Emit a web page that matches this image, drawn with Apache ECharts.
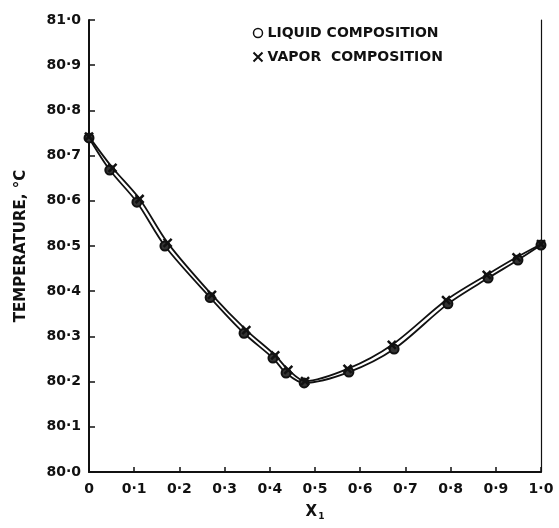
<!DOCTYPE html>
<html>
<head>
  <meta charset="utf-8">
  <title>T-x diagram</title>
  <script src="https://cdn.jsdelivr.net/npm/echarts@6.0.0/dist/echarts.min.js"></script>
  <style>
    html, body { margin: 0; padding: 0; background: #fff; }
    #main { width: 559px; height: 528px; }
  </style>
</head>
<body>
  <div id="main"></div>
  <script type="text/javascript">
    // liquid composition (x1, T)
    var liquidX = [0, 0.046, 0.106, 0.168, 0.268, 0.343, 0.407, 0.436, 0.476, 0.575, 0.675, 0.794, 0.883, 0.949, 1.0];
    var liquidT = [80.739, 80.668, 80.597, 80.500, 80.386, 80.307, 80.252, 80.219, 80.197, 80.221, 80.272, 80.372, 80.429, 80.469, 80.502];
    // vapor composition (y1, T)
    var vaporX = [0, 0.052, 0.112, 0.174, 0.272, 0.348, 0.412, 0.441, 0.478, 0.572, 0.670, 0.790, 0.880, 0.946, 1.0];
    var vaporT = [80.742, 80.673, 80.604, 80.507, 80.392, 80.314, 80.258, 80.226, 80.201, 80.228, 80.281, 80.380, 80.436, 80.475, 80.504];

    function pairs(xs, ys) {
      var out = [];
      for (var i = 0; i < xs.length; i++) {
        out.push([xs[i], ys[i]]);
      }
      return out;
    }

    function dotLabel(v) {
      var s = v.toFixed(1).replace('.', '·');
      return s === '0·0' ? '0' : s;
    }

    var crossPath = 'path://M0,0L10,10M10,0L0,10';
    var font = 'DejaVu Sans';

    var myChart = echarts.init(document.getElementById('main'));

    var option = {
      backgroundColor: '#fff',
      animation: false,
      textStyle: { fontFamily: font },
      grid: { left: 89, right: 18, top: 20, bottom: 56, containLabel: false, outerBoundsMode: 'none' },
      legend: {
        orient: 'vertical',
        left: 246,
        top: 21,
        itemGap: 10,
        itemWidth: 9,
        itemHeight: 9,
        selectedMode: false,
        textStyle: { fontFamily: font, fontSize: 14, fontWeight: 'bold', color: '#111' },
        data: [
          { name: 'LIQUID COMPOSITION', icon: 'circle',
            itemStyle: { color: '#fff', borderColor: '#111', borderWidth: 1.5 } },
          { name: 'VAPOR  COMPOSITION', icon: crossPath,
            itemStyle: { color: 'none', borderColor: '#111', borderWidth: 2 } }
        ]
      },
      xAxis: {
        type: 'value',
        min: 0,
        max: 1,
        interval: 0.1,
        name: '{a|X}{b|1}',
        nameLocation: 'middle',
        nameGap: 32,
        nameTextStyle: {
          rich: {
            a: { fontFamily: font, fontSize: 15, fontWeight: 'bold', color: '#111' },
            b: { fontFamily: font, fontSize: 9, fontWeight: 'bold', color: '#111', padding: [8, 0, 0, 1] }
          }
        },
        axisLine: { lineStyle: { color: '#111', width: 2 } },
        axisTick: { inside: true, length: 5, lineStyle: { color: '#111', width: 1.5 } },
        axisLabel: { formatter: dotLabel, fontSize: 14, fontWeight: 'bold', color: '#111', margin: 10 },
        splitLine: { show: false }
      },
      yAxis: [{
        type: 'value',
        min: 80,
        max: 81,
        interval: 0.1,
        name: 'TEMPERATURE, °C',
        nameLocation: 'middle',
        nameGap: 60,
        nameTextStyle: { fontFamily: font, fontSize: 15, fontWeight: 'bold', color: '#111' },
        axisLine: { show: true, lineStyle: { color: '#111', width: 2 } },
        axisTick: { inside: true, length: 6, lineStyle: { color: '#111', width: 1.5 } },
        axisLabel: { formatter: function (v) { return v.toFixed(1).replace('.', '·'); },
          fontSize: 14, fontWeight: 'bold', color: '#111', margin: 8 },
        splitLine: { show: false }
      }, {
        type: 'value',
        min: 80,
        max: 81,
        position: 'right',
        axisLine: { show: true, lineStyle: { color: '#111', width: 1.2 } },
        axisTick: { show: false },
        axisLabel: { show: false },
        splitLine: { show: false }
      }],
      series: [{
        name: 'LIQUID COMPOSITION',
        type: 'line',
        data: pairs(liquidX, liquidT),
        smooth: 0.3,
        symbol: 'circle',
        symbolSize: 9,
        lineStyle: { color: '#111', width: 1.8 },
        itemStyle: { color: '#333', borderColor: '#111', borderWidth: 2 },
        z: 3
      }, {
        name: 'VAPOR  COMPOSITION',
        type: 'line',
        data: pairs(vaporX, vaporT),
        smooth: 0.3,
        symbol: crossPath,
        symbolSize: 8,
        lineStyle: { color: '#111', width: 1.8 },
        itemStyle: { color: 'none', borderColor: '#111', borderWidth: 2.5 },
        z: 4
      }]
    };
    myChart.setOption(option);
  </script>
</body>
</html>
